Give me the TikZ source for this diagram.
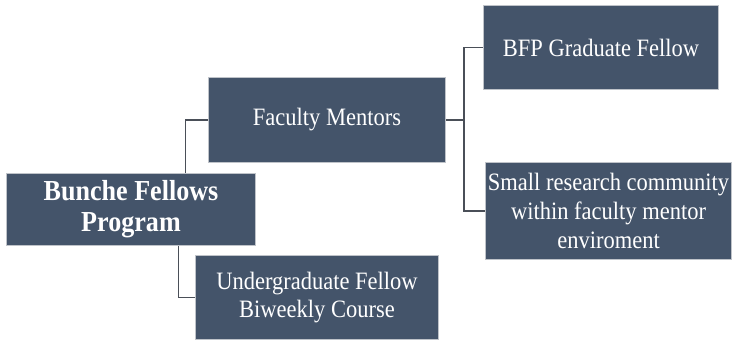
\documentclass[tikz,border=0pt]{standalone}
\usepackage{fontspec}
\setmainfont{Liberation Serif}
\newfontfamily\boxfont[FakeStretch=0.9]{Liberation Serif}
\definecolor{boxfill}{HTML}{44546A}
\definecolor{boxedge}{HTML}{BFC3C9}
\definecolor{linkcol}{HTML}{4A4F58}
\begin{document}
\begin{tikzpicture}[x=1pt,y=-1pt,
  orgbox/.style={draw=boxedge, line width=1pt, fill=boxfill, text=white,
    align=center, inner sep=0pt},
  link/.style={draw=linkcol, line width=1.6pt}]
\useasboundingbox (0,0) rectangle (733,342);

% boxes, placed by their top-left corners
\node[orgbox, minimum width=249pt, minimum height=72pt, anchor=north west,
  font=\boxfont\fontsize{29}{31}\selectfont\bfseries] (root) at (6,173)
  {Bunche Fellows\\Program};
\node[orgbox, minimum width=237pt, minimum height=85pt, anchor=north west,
  font=\boxfont\fontsize{25}{27}\selectfont] (fac) at (208,77)
  {Faculty Mentors};
\node[orgbox, minimum width=235pt, minimum height=84pt, anchor=north west,
  font=\boxfont\fontsize{25}{27}\selectfont] (grad) at (483,5)
  {BFP Graduate Fellow};
\node[orgbox, minimum width=246pt, minimum height=97pt, anchor=north west,
  font=\boxfont\fontsize{25}{29}\selectfont] (small) at (485,162)
  {Small research community\\within faculty mentor\\enviroment};
\node[orgbox, minimum width=243pt, minimum height=84pt, anchor=north west,
  font=\boxfont\fontsize{25}{28}\selectfont] (under) at (195,255)
  {Undergraduate Fellow\\Biweekly Course};

% elbow connectors
\coordinate (jr) at (464,120);
\draw[link] ([xshift=54.5pt]root.north) |- (fac.west);
\draw[link] ([xshift=47.5pt]root.south) |- (under.west);
\draw[link] (fac.east) -- (jr);
\draw[link] (jr |- grad.west) -- (grad.west);
\draw[link] (jr |- grad.west) -- (jr |- small.west) -- (small.west);
\end{tikzpicture}
\end{document}
